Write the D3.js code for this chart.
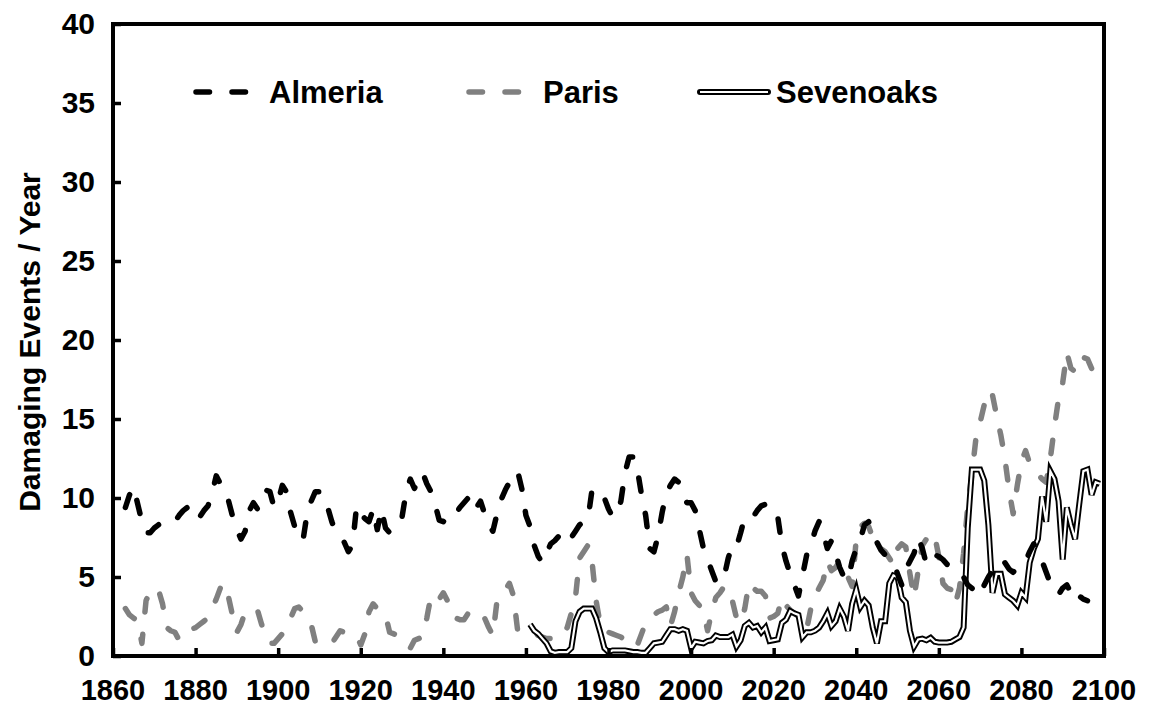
<!DOCTYPE html>
<html><head><meta charset="utf-8">
<script src="https://cdn.jsdelivr.net/npm/d3@7"></script>
<style>
body{margin:0;background:#fff}
svg{display:block}
text{font-family:"Liberation Sans",Arial,sans-serif;font-weight:bold;fill:#000}
</style>
</head><body>
<svg id="chart" width="1156" height="711"></svg>
<script>
// ---------- data ----------
const seriesNames = ["Almeria", "Paris", "Sevenoaks"];
const xTicks = [1860,1880,1900,1920,1940,1960,1980,2000,2020,2040,2060,2080,2100];
const yTicks = [0,5,10,15,20,25,30,35,40];
const yTitle = "Damaging Events / Year";

const almeriaStart = 1863;
const almeria = [
 9.4,10.2,10.7,9.6,8.5,7.8,7.8,8.1,8.3,8.5,
 8.5,8.5,8.5,8.9,9.2,9.4,9.0,8.6,8.8,9.2,
 9.5,10.3,11.4,10.9,10.6,9.8,8.8,8.0,7.4,7.9,
 9.2,9.7,9.3,10.0,10.5,10.4,9.4,9.8,10.8,10.4,
 9.1,8.2,7.6,7.3,9.0,9.8,10.4,10.4,10.2,9.4,
 8.5,7.8,7.5,7.2,6.6,7.0,9.5,9.0,8.7,8.5,
 9.3,8.0,9.3,8.1,7.8,8.0,8.3,8.8,10.4,11.2,
 10.6,11.2,11.6,10.9,10.4,9.6,8.6,8.5,8.9,9.1,
 9.0,9.4,9.7,10.0,10.2,9.4,9.8,9.0,8.3,7.9,
 9.0,9.9,10.5,11.0,11.3,11.7,10.6,8.9,8.2,7.0,
 6.3,5.9,6.5,7.1,7.3,7.6,7.3,7.1,7.5,7.9,
 8.3,8.5,8.6,10.5,10.6,10.3,10.0,9.3,8.8,9.0,
 9.8,11.6,12.6,12.6,11.8,10.2,8.9,6.8,6.6,7.6,
 9.1,10.3,10.8,11.2,11.0,10.2,9.7,9.7,9.2,8.0,
 6.8,6.1,5.4,4.7,4.6,5.0,6.2,7.0,6.9,7.8,
 8.8,8.8,8.8,9.2,9.5,9.6,9.6,9.4,8.8,7.0,
 6.0,5.2,4.5,3.8,5.1,6.4,7.0,7.9,8.5,7.8,
 6.8,7.3,6.5,5.6,5.0,4.8,6.0,6.8,7.4,8.3,
 8.5,7.9,7.2,6.7,6.4,6.1,5.9,5.2,4.5,5.5,
 6.0,6.5,7.5,6.8,5.8,6.3,6.4,6.3,6.1,5.8,
 5.7,5.5,5.4,5.0,4.5,4.3,4.0,3.8,4.5,5.0,
 5.4,5.8,6.1,5.9,5.5,5.3,5.6,5.8,6.0,6.6,
 7.1,6.5,6.0,5.3,4.6,4.2,3.9,4.3,4.5,4.0,
 4.3,3.8,3.6,3.5
];

const parisStart = 1863;
const paris = [
 3.0,2.6,2.4,2.2,0.8,3.5,4.1,4.3,4.2,3.3,
 1.8,1.6,1.5,1.0,1.2,1.5,1.7,1.8,2.0,2.2,
 2.4,3.0,3.6,4.3,4.6,3.7,2.5,1.5,2.0,2.8,
 2.9,3.0,2.9,2.0,1.2,0.8,0.8,1.1,1.4,1.8,
 2.4,3.0,3.1,2.8,2.4,2.0,0.9,0.8,0.8,0.7,
 0.8,1.2,1.6,1.5,1.4,1.4,1.3,0.7,1.4,2.8,
 3.3,3.0,2.8,2.6,1.5,1.4,1.3,1.2,0.8,0.5,
 1.0,1.1,1.2,2.4,3.8,3.5,3.6,4.0,3.5,2.6,
 2.4,2.3,2.3,2.7,2.9,2.9,2.7,2.4,1.8,1.3,
 3.5,3.9,4.2,4.6,3.8,1.6,1.5,1.5,1.5,1.5,
 1.3,1.2,1.1,1.1,1.1,1.1,1.4,1.8,2.7,3.7,
 6.2,6.6,7.0,6.0,3.5,2.0,1.5,1.5,1.4,1.3,
 1.2,1.0,1.0,1.1,0.7,1.4,2.1,2.4,2.6,2.8,
 2.9,3.1,1.9,2.8,4.0,5.0,6.4,4.0,3.5,3.2,
 2.8,1.6,2.8,3.7,4.0,4.4,4.3,3.5,2.4,2.1,
 3.0,4.6,4.3,4.1,4.1,3.8,2.4,2.5,2.7,3.7,
 3.2,2.9,2.7,2.5,2.0,1.7,3.0,3.8,4.3,4.8,
 6.0,5.4,5.6,6.0,5.4,5.0,4.4,7.4,8.2,8.4,
 8.2,7.5,6.9,6.8,6.6,6.2,5.8,6.8,7.1,6.9,
 5.2,3.7,5.4,7.0,7.4,7.2,7.6,6.3,4.6,4.3,
 4.2,3.3,4.3,6.5,9.5,11.5,13.8,14.8,15.9,16.8,
 16.5,15.2,14.0,12.5,10.5,9.0,10.8,12.3,13.0,12.2,
 11.8,11.5,11.2,11.0,12.5,14.5,16.3,17.3,19.2,18.2,
 18.0,18.9,18.9,18.8,18.2,18.0
];

const sevenoaksStart = 1961;
const sevenoaks = [
 2.0,1.6,1.4,1.1,0.8,0.3,0.2,0.25,0.25,0.25,
 0.5,2.2,2.8,3.0,3.0,3.0,2.4,1.5,0.5,0.25,
 0.35,0.35,0.35,0.35,0.3,0.25,0.25,0.2,0.2,0.5,
 0.8,0.85,0.9,1.3,1.7,1.7,1.6,1.7,1.6,0.5,
 0.9,0.85,0.8,0.95,1.0,1.3,1.2,1.2,1.2,1.35,
 0.6,1.0,1.9,2.1,1.8,1.9,1.5,1.8,0.95,1.0,
 1.05,2.1,2.3,2.85,2.7,2.6,1.2,1.5,1.5,1.6,
 1.8,2.2,2.7,1.9,2.2,3.0,2.5,1.6,3.3,4.2,
 3.1,3.5,3.2,1.8,0.8,2.2,2.2,4.6,5.1,5.0,
 3.7,3.4,1.6,0.6,1.05,1.1,1.0,1.15,0.9,0.85,
 0.85,0.85,0.9,1.05,1.2,1.8,8.1,11.8,11.8,11.8,
 11.1,8.3,4.0,5.2,5.2,3.9,3.7,3.5,3.2,4.0,
 3.7,5.9,6.8,7.4,10.1,8.5,11.7,11.2,9.8,6.1,
 9.4,8.3,7.4,9.6,11.7,11.8,10.2,11.0,10.9
];

// ---------- layout ----------
const svg = d3.select("#chart");
const L = 113, R = 1104, T = 24, B = 656;
const x = d3.scaleLinear().domain([1860, 2100]).range([L, R]);
const y = d3.scaleLinear().domain([0, 40]).range([B, T]);

const toPts = (start, vals) => vals.map((v, i) => ({yr: start + i, v}));
const line = d3.line().x(d => x(d.yr)).y(d => y(d.v));

const dashW = 5.5, dashArr = "13.5,22.5";
const grey = "#808080";

const plot = svg.append("g");
plot.append("defs").append("clipPath").attr("id","clip")
  .append("rect").attr("x",L).attr("y",T).attr("width",R-L).attr("height",B-T);
const g = plot.append("g").attr("clip-path","url(#clip)");

// Paris (bottom)
g.append("path").datum(toPts(parisStart, paris)).attr("d", line)
  .attr("fill","none").attr("stroke",grey).attr("stroke-width",dashW)
  .attr("stroke-dasharray",dashArr).attr("stroke-linecap","round").attr("stroke-linejoin","round");
// Sevenoaks (double line)
const sevPts = toPts(sevenoaksStart, sevenoaks);
g.append("path").datum(sevPts).attr("d", line)
  .attr("fill","none").attr("stroke","#000").attr("stroke-width",6).attr("stroke-linejoin","miter");
g.append("path").datum(sevPts).attr("d", line)
  .attr("fill","none").attr("stroke","#fff").attr("stroke-width",2.2).attr("stroke-linejoin","miter");
// Almeria (top)
g.append("path").datum(toPts(almeriaStart, almeria)).attr("d", line)
  .attr("fill","none").attr("stroke","#000").attr("stroke-width",dashW)
  .attr("stroke-dasharray",dashArr).attr("stroke-linecap","round").attr("stroke-linejoin","round");

// ---------- axes ----------
const xAxis = d3.axisBottom(x).tickValues(xTicks).tickSize(-8).tickFormat("");
const yAxis = d3.axisLeft(y).tickValues(yTicks).tickSize(-8).tickFormat("");
const gx = svg.append("g").attr("transform",`translate(0,${B})`).call(xAxis);
const gy = svg.append("g").attr("transform",`translate(${L},0)`).call(yAxis);
[gx, gy].forEach(a => {
  a.select(".domain").remove();
  a.selectAll(".tick line").attr("stroke","#000").attr("stroke-width",3.5);
});
svg.append("rect").attr("x",L).attr("y",T).attr("width",R-L).attr("height",B-T)
  .attr("fill","none").attr("stroke","#000").attr("stroke-width",4);

svg.append("g").selectAll("text").data(xTicks).join("text")
  .attr("x", d => x(d)).attr("y", 699.5).attr("text-anchor","middle")
  .attr("font-size", 29).text(d => d);
svg.append("g").selectAll("text").data(yTicks).join("text")
  .attr("x", 95).attr("y", d => y(d)).attr("dy","0.34em").attr("text-anchor","end")
  .attr("font-size", 30).text(d => d);

svg.append("text").attr("transform","translate(40,342) rotate(-90)")
  .attr("text-anchor","middle").attr("font-size",30).text(yTitle);

// ---------- legend ----------
const leg = svg.append("g");
const ly = 92;
const legendItems = [
  {name: seriesNames[0], x0: 196, x1: 246, tx: 269, kind: "dash", color: "#000"},
  {name: seriesNames[1], x0: 469, x1: 519, tx: 543, kind: "dash", color: grey},
  {name: seriesNames[2], x0: 700, x1: 768, tx: 776, kind: "double", color: "#000"}
];
legendItems.forEach(it => {
  if (it.kind === "dash") {
    leg.append("line").attr("x1",it.x0).attr("x2",it.x1).attr("y1",ly).attr("y2",ly)
      .attr("stroke",it.color).attr("stroke-width",dashW).attr("stroke-dasharray",dashArr)
      .attr("stroke-linecap","round");
  } else {
    leg.append("line").attr("x1",it.x0).attr("x2",it.x1).attr("y1",ly).attr("y2",ly)
      .attr("stroke","#000").attr("stroke-width",6).attr("stroke-linecap","round");
    leg.append("line").attr("x1",it.x0).attr("x2",it.x1).attr("y1",ly).attr("y2",ly)
      .attr("stroke","#fff").attr("stroke-width",2.2);
  }
  leg.append("text").attr("x",it.tx).attr("y",ly).attr("dy","0.36em")
    .attr("font-size",31).text(it.name);
});
</script>
</body></html>
